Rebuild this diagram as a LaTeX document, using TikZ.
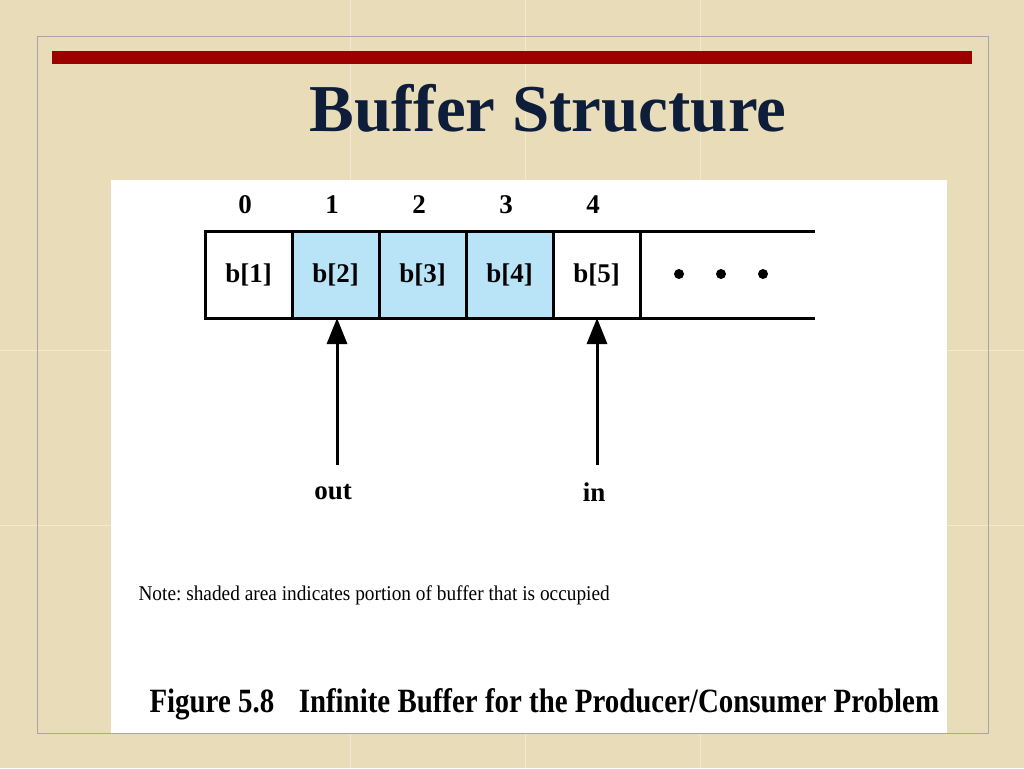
\documentclass[tikz,border=0pt]{standalone}
\usepackage{fontspec}
\setmainfont{Liberation Serif}
\usepackage{tikz}
\usetikzlibrary{arrows.meta,positioning}
\definecolor{parchment}{HTML}{E9DCB9}
\definecolor{seam}{HTML}{F2E9D2}
\definecolor{barred}{HTML}{9C0000}
\definecolor{titlenavy}{HTML}{0E1D3A}
\definecolor{occupied}{HTML}{B9E4F8}
\frenchspacing
\tikzset{cellbox/.style={draw,line width=3pt,minimum width=87pt,minimum height=87pt,
		inner sep=0pt,outer sep=0pt,font=\fontsize{27}{30}\selectfont\bfseries},
	shaded/.style={cellbox,fill=occupied},
	idx/.style={font=\fontsize{27}{30}\selectfont\bfseries},
	ptr/.style={line width=3pt,-{Triangle[width=20pt,length=26pt]}},
	dot/.style={circle,fill,inner sep=0pt,minimum size=10pt}}

\begin{document}
\begin{tikzpicture}[x=1pt,y=-1pt]
\useasboundingbox (0,0) rectangle (1024,768);
% slide background
\fill[parchment] (0,0) rectangle (1024,768);
\foreach \s in {350,525,700} {\draw[seam,line width=1pt] (\s,0) -- (\s,768);}
\foreach \s in {350,525} {\draw[seam,line width=1pt] (0,\s) -- (1024,\s);}
\draw[gray!70,line width=1pt] (37,37) rectangle (988,733);
\fill[barred] (52,51) rectangle (972,64);
\node[text=titlenavy,font=\fontsize{67}{72}\selectfont\bfseries] (title) at (548,108) {Buffer Structure};
% figure panel
\fill[white] (111,180) rectangle (947,733);
\node [cellbox] (c0) at (248.5,274.5) {b[1]};
\node [shaded] (c1) at (335.5,274.5) {b[2]};
\node [shaded] (c2) at (422.5,274.5) {b[3]};
\node [shaded] (c3) at (509.5,274.5) {b[4]};
\node [cellbox] (c4) at (596.5,274.5) {b[5]};
\coordinate (tailtop) at (815,231);
\coordinate (tailbot) at (815,318);
\draw[line width=3pt] (c4.north east) -- (tailtop);
\draw[line width=3pt] (c4.south east) -- (tailbot);
\node [dot] (d1) at (679,274) {};
\node [dot] (d2) at (721,274) {};
\node [dot] (d3) at (763,274) {};
\node [idx] (i0) at (245,205) {0};
\node [idx] (i1) at (332,205) {1};
\node [idx] (i2) at (419,205) {2};
\node [idx] (i3) at (506,205) {3};
\node [idx] (i4) at (593,205) {4};
% pointers
\node [idx] (out) at (333,492) {out};
\node [idx] (in) at (594,492) {in};
\draw[ptr] (337,465) -- (c1.south -| 337,0);
\draw[ptr] (597,465) -- (c4.south -| 597,0);
\node [anchor=west,font=\fontsize{21}{23}\selectfont] (note) at (135,595)
	{\scalebox{0.92}[1]{Note: shaded area indicates portion of buffer that is occupied}};
\node [anchor=west,font=\fontsize{34}{36}\selectfont\bfseries] (caption) at (146,704)
	{\scalebox{0.85}[1]{Figure 5.8\hspace{0.6em} Infinite Buffer for the Producer/Consumer Problem}};
\end{tikzpicture}
\end{document}
